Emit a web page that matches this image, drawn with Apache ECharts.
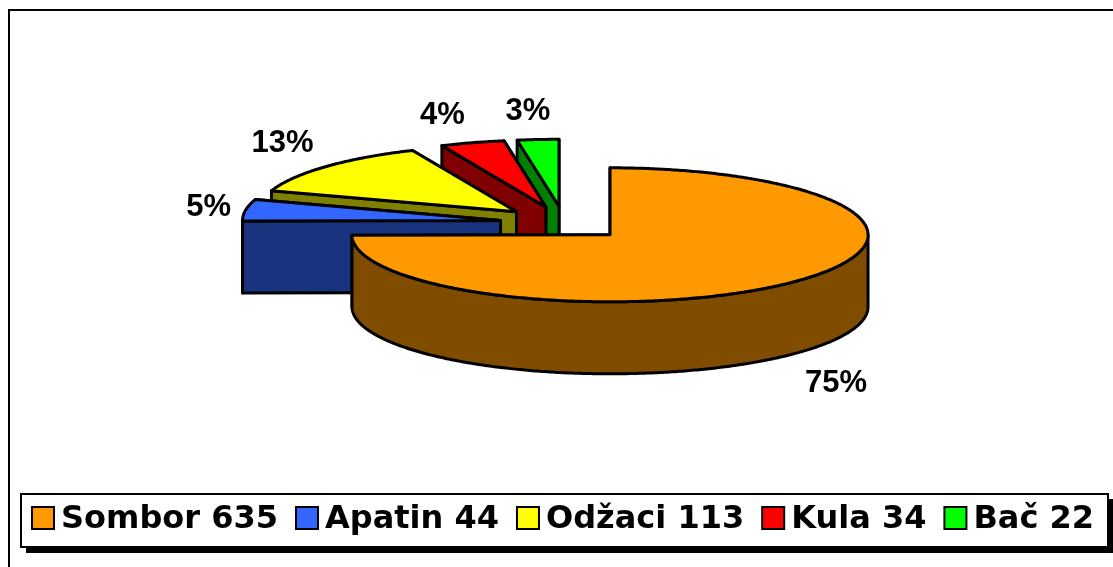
<!DOCTYPE html>
<html>
<head>
<meta charset="utf-8">
<style>
  html, body { margin: 0; padding: 0; background: #fff; }
  #chart { width: 1113px; height: 567px; }
</style>
<script src="https://cdn.jsdelivr.net/npm/echarts@6/dist/echarts.min.js"></script>
</head>
<body>
<div id="chart"></div>
<script>
// data
const towns = ["Sombor", "Apatin", "Odžaci", "Kula", "Bač"];
const counts = [635, 44, 113, 34, 22];
const topColors = ["#ff9900", "#3366ff", "#ffff00", "#ff0000", "#00ff00"];
const sideColors = ["#804d00", "#1a337f", "#808000", "#800000", "#008000"];

// 3d pie geometry
const centerX = 564.25;
const centerY = 223;
const radiusX = 258;
const radiusY = 67;
const depth = 72;
const explode = 0.25;

// nudge of each percent label away from the rim
const labelNudge = [[43, 101], [-37, -3], [-43, -23], [-30, -27], [-10, -28]];

const total = counts.reduce((a, b) => a + b, 0);

// angle is clockwise from 12 o'clock
function rim(cx, cy, angle) {
  return [cx + radiusX * Math.sin(angle), cy - radiusY * Math.cos(angle)];
}

function arcPoints(cx, cy, from, to) {
  const pts = [];
  const steps = Math.max(2, Math.ceil(Math.abs(to - from) / 0.01));
  for (let i = 0; i <= steps; i++) {
    pts.push(rim(cx, cy, from + (to - from) * i / steps));
  }
  return pts;
}

function sliceElements(index) {
  const before = counts.slice(0, index).reduce((a, b) => a + b, 0);
  const start = before / total * Math.PI * 2;
  const end = (before + counts[index]) / total * Math.PI * 2;
  const mid = (start + end) / 2;
  const cx = centerX + explode * radiusX * Math.sin(mid);
  const cy = centerY - explode * radiusY * Math.cos(mid);
  const lineStyle = { stroke: "#000", lineWidth: 3, lineJoin: "round" };
  const sideStyle = Object.assign({ fill: sideColors[index] }, lineStyle);
  const elements = [];

  function wall(pts) {
    const lower = pts.map((p) => [p[0], p[1] + depth]).reverse();
    elements.push({ type: "polygon", shape: { points: pts.concat(lower) }, style: sideStyle });
  }

  wall([[cx, cy], rim(cx, cy, end)]);
  wall([[cx, cy], rim(cx, cy, start)]);
  // only the front half of the rim shows a wall
  const frontFrom = Math.max(start, Math.PI / 2);
  const frontTo = Math.min(end, Math.PI * 1.5);
  if (frontTo > frontFrom) wall(arcPoints(cx, cy, frontFrom, frontTo));

  elements.push({
    type: "polygon",
    shape: { points: [[cx, cy]].concat(arcPoints(cx, cy, start, end)) },
    style: Object.assign({ fill: topColors[index] }, lineStyle)
  });

  const anchor = rim(cx, cy, mid);
  elements.push({
    type: "text",
    x: anchor[0] + labelNudge[index][0],
    y: anchor[1] + labelNudge[index][1],
    style: {
      text: Math.round(counts[index] / total * 100) + "%",
      fill: "#000",
      font: "bold 31px 'Liberation Sans', Arial, sans-serif",
      textAlign: "center",
      textVerticalAlign: "middle"
    }
  });
  return { type: "group", children: elements };
}

const legendLabels = towns.map((t, i) => t + " " + counts[i]);

const myChart = echarts.init(document.getElementById("chart"), null, { renderer: "canvas" });
myChart.setOption({
  animation: false,
  backgroundColor: "#fff",
  graphic: [
    {
      type: "rect",
      silent: true,
      z: -1,
      shape: { x: 9, y: 10, width: 1200, height: 700 },
      style: { fill: "#fff", stroke: "#000", lineWidth: 2 }
    },
    // legend box and its hard shadow
    {
      type: "rect",
      silent: true,
      z: 1,
      shape: { x: 26, y: 499, width: 1087, height: 54 },
      style: { fill: "#000" }
    },
    {
      type: "rect",
      silent: true,
      z: 1,
      shape: { x: 21, y: 494, width: 1087, height: 53 },
      style: { fill: "#fff", stroke: "#000", lineWidth: 2 }
    }
  ],
  legend: {
    left: 31,
    top: 504,
    orient: "horizontal",
    data: towns,
    icon: "rect",
    itemWidth: 22,
    itemHeight: 22,
    itemGap: 17,
    padding: 0,
    selectedMode: false,
    formatter: (name) => "{t|" + legendLabels[towns.indexOf(name)] + "}",
    textStyle: {
      rich: {
        t: {
          color: "#000",
          fontFamily: "'DejaVu Sans', Verdana, sans-serif",
          fontWeight: "bold",
          fontSize: 32,
          padding: [4, 0, 0, 2]
        }
      }
    },
    itemStyle: { borderColor: "#000", borderWidth: 2 }
  },
  // one custom series per town, back slices first so the front ones paint over them
  series: towns.map((name, i) => i).reverse().map((i) => ({
    type: "custom",
    name: towns[i],
    coordinateSystem: "none",
    silent: true,
    color: topColors[i],
    data: [counts[i]],
    renderItem: () => sliceElements(i)
  }))
});
</script>
</body>
</html>
